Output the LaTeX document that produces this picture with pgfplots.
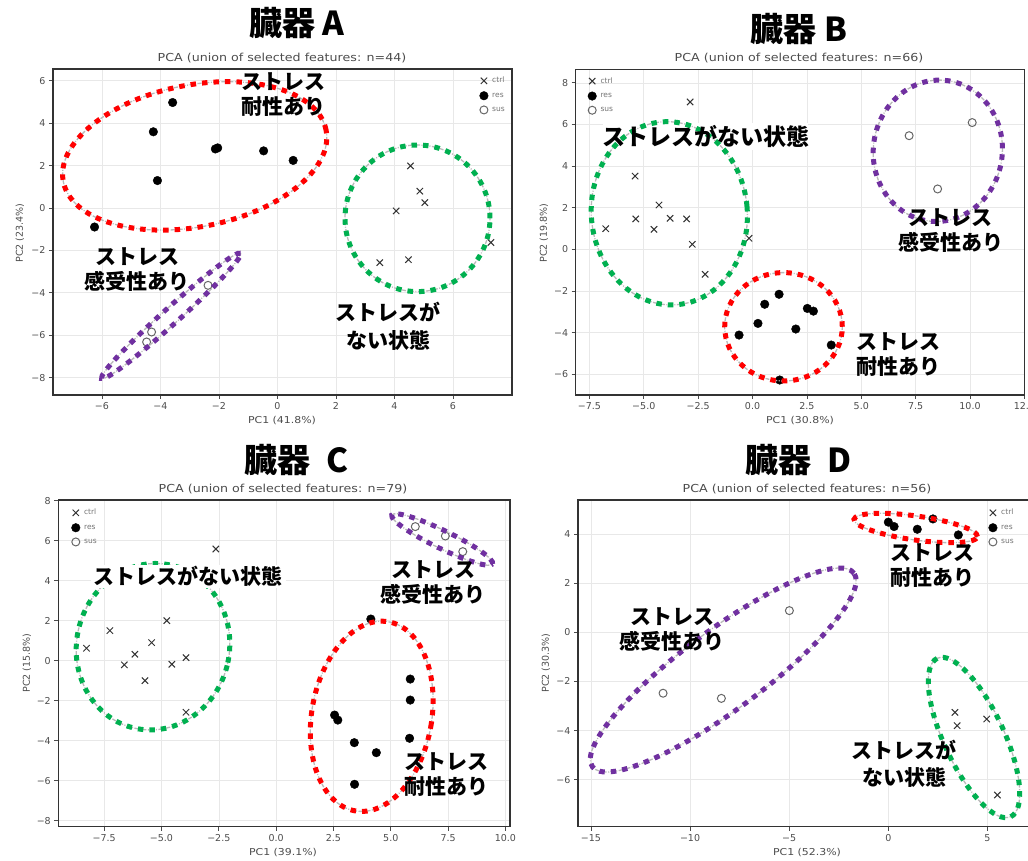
\documentclass[border=0pt]{standalone}
\usepackage{fontspec}
\usepackage{graphicx}
\usepackage{pgfplots}
\pgfplotsset{compat=1.18}
\setmainfont{DejaVu Sans}
\newfontfamily\cjk{Noto Sans CJK JP}
\definecolor{ered}{RGB}{255,0,0}
\definecolor{egreen}{RGB}{0,176,80}
\definecolor{epurple}{RGB}{112,48,160}
\tikzset{
  ellbase/.style={draw=gray!55, line width=1.3pt, dash pattern=on 4pt off 1.5pt on 1pt off 1.5pt},
  elldot/.style={draw=#1, line width=5pt, dash pattern=on 5.5pt off 6pt},
  ann/.style={font=\cjk\bfseries\fontsize{21}{25}\selectfont, align=center, inner sep=1pt},
  ann2/.style={font=\cjk\bfseries\fontsize{21}{28}\selectfont, align=center, inner sep=1pt},
  big/.style={font=\cjk\bfseries\fontsize{33}{36}\selectfont, inner sep=0pt},
  sub/.style={font=\fontsize{11}{13}\selectfont, text=black!70, inner sep=0pt},
  lab/.style={font=\fontsize{9.5}{11}\selectfont, text=black!70, inner sep=0pt},
  ctrl/.style={only marks, mark=x, mark size=4.5pt, mark options={draw=black!80, line width=1pt}},
  res/.style={only marks, mark=*, mark size=4.3pt, mark options={draw=black, fill=black}},
  sus/.style={only marks, mark=o, mark size=4pt, mark options={draw=black!60, line width=1pt}},
}
\newcommand\SX[1]{\scalebox{1.15}[1]{#1}}
\newcommand\Ell[6]{%
  \draw[ellbase, rotate around={#6:({#2pt},{860pt-#3pt})}] ({#2pt},{860pt-#3pt}) ellipse [x radius=#4pt, y radius=#5pt];
  \draw[elldot=#1, rotate around={#6:({#2pt},{860pt-#3pt})}] ({#2pt},{860pt-#3pt}) ellipse [x radius=#4pt, y radius=#5pt];
}
\newcommand\T[3]{\node[#1] at ({#2pt},{860pt-#3pt})}
\pgfplotsset{pca/.style={
  scale only axis, anchor=south west,
  axis line style={draw=black!80, line width=1.3pt},
  grid=major, grid style={draw=gray!18, line width=0.6pt},
  xtick pos=bottom, ytick pos=left, tick align=outside,
  major tick length=4pt, tick style={draw=black!70, line width=0.7pt},
  ticklabel style={font=\fontsize{9.5}{11}\selectfont, text=black!70},
  legend style={draw=none, fill=none, font=\fontsize{7.5}{8}\selectfont, text=black!55, row sep=4.5pt, inner sep=1pt, nodes={inner xsep=4pt}},
  legend cell align=left,
}}
\begin{document}
\begin{tikzpicture}
\useasboundingbox (0,0) rectangle (1028pt,860pt);
\clip (0,0) rectangle (1028pt,860pt);

% ---------------- Panel A ----------------
\begin{axis}[pca, at={(53pt,465pt)}, width=459pt, height=326pt,
  xmin=-7.67, xmax=8.02, ymin=-8.82, ymax=6.55,
  xtick={-6,-4,-2,0,2,4,6}, xticklabels={−6,−4,−2,0,2,4,6},
  ytick={-8,-6,-4,-2,0,2,4,6}, yticklabels={−8,−6,−4,−2,0,2,4,6},
  legend style={at={(1,1)}, anchor=north east, xshift=-2pt, yshift=-5pt}]
\addplot[ctrl] coordinates {(4.55,1.98) (4.87,0.79) (5.04,0.25) (4.06,-0.14) (7.3,-1.63) (3.5,-2.58) (4.48,-2.44)};
\addplot[res] coordinates {(-3.58,4.97) (-4.24,3.59) (-2.04,2.83) (-2.12,2.78) (-0.47,2.69) (0.54,2.24) (-4.1,1.29) (-6.25,-0.9)};
\addplot[sus] coordinates {(-4.47,-6.32) (-4.3,-5.85) (-2.37,-3.65)};
\legend{ctrl,res,sus}
\end{axis}

% ---------------- Panel B ----------------
\begin{axis}[pca, at={(575.7pt,465pt)}, width=448.7pt, height=325.7pt,
  xmin=-8.13, xmax=12.5, ymin=-7.0, ymax=8.65,
  xtick={-7.5,-5,-2.5,0,2.5,5,7.5,10,12.5}, xticklabels={−7.5,−5.0,−2.5,0.0,2.5,5.0,7.5,10.0,12.5},
  ytick={-6,-4,-2,0,2,4,6,8}, yticklabels={−6,−4,−2,0,2,4,6,8},
  legend style={at={(0,1)}, anchor=north west, xshift=11pt, yshift=-5pt}]
\addplot[ctrl] coordinates {(-2.87,7.08) (-5.4,3.52) (-4.3,2.13) (-5.37,1.46) (-3.79,1.49) (-3.03,1.46) (-6.75,0.99) (-4.53,0.96) (-2.77,0.24) (-0.16,0.53) (-2.18,-1.2)};
\addplot[res] coordinates {(1.22,-2.16) (0.56,-2.64) (2.52,-2.84) (2.8,-2.97) (0.25,-3.56) (1.99,-3.83) (-0.62,-4.12) (3.62,-4.6) (1.25,-6.28)};
\addplot[sus] coordinates {(7.2,5.46) (10.1,6.09) (8.51,2.9)};
\legend{ctrl,res,sus}
\end{axis}

% ---------------- Panel C ----------------
\begin{axis}[pca, at={(58.3pt,33.3pt)}, width=451.7pt, height=326.7pt,
  xmin=-9.5, xmax=10.2, ymin=-8.3, ymax=8.03,
  xtick={-7.5,-5,-2.5,0,2.5,5,7.5,10}, xticklabels={−7.5,−5.0,−2.5,0.0,2.5,5.0,7.5,10.0},
  ytick={-8,-6,-4,-2,0,2,4,6,8}, yticklabels={−8,−6,−4,−2,0,2,4,6,8},
  legend style={at={(0,1)}, anchor=north west, xshift=12pt, yshift=-6pt}]
\addplot[ctrl] coordinates {(-2.63,5.58) (-4.77,2.0) (-7.25,1.5) (-5.43,0.9) (-8.27,0.62) (-6.16,0.32) (-3.93,0.15) (-6.62,-0.21) (-4.55,-0.18) (-5.72,-1.0) (-3.93,-2.58)};
\addplot[res] coordinates {(4.13,2.08) (5.85,-0.92) (5.85,-1.97) (2.55,-2.72) (2.69,-2.97) (5.82,-3.88) (3.41,-4.1) (4.37,-4.6) (3.42,-6.18)};
\addplot[sus] coordinates {(6.07,6.7) (7.38,6.23) (8.14,5.45)};
\legend{ctrl,res,sus}
\end{axis}

% ---------------- Panel D ----------------
\begin{axis}[pca, at={(578pt,33.3pt)}, width=465pt, height=326.7pt,
  xmin=-15.65, xmax=7.8, ymin=-7.91, ymax=5.38,
  xtick={-15,-10,-5,0,5}, xticklabels={−15,−10,−5,0,5},
  ytick={-6,-4,-2,0,2,4}, yticklabels={−6,−4,−2,0,2,4},
  legend style={at={(1,1)}, anchor=north east, xshift=-24pt, yshift=-6pt}]
\addplot[ctrl] coordinates {(3.36,-3.26) (3.47,-3.8) (4.96,-3.53) (5.5,-6.62)};
\addplot[res] coordinates {(0.0,4.48) (0.29,4.3) (1.46,4.19) (2.25,4.61) (3.53,3.96)};
\addplot[sus] coordinates {(-4.99,0.88) (-11.36,-2.48) (-8.42,-2.69)};
\legend{ctrl,res,sus}
\end{axis}

% ---------------- titles and labels ----------------
\T{big}{297}{23}{臓器 A};
\T{big}{799}{29}{臓器 B};
\T{big}{297}{460}{臓器\hspace{16pt}C};
\T{big}{799}{460}{臓器\hspace{16pt}D};
\T{sub}{282}{58}{\SX{PCA (union of selected features: n=44)}};
\T{sub}{799}{58}{\SX{PCA (union of selected features: n=66)}};
\T{sub}{283}{489}{\SX{PCA (union of selected features: n=79)}};
\T{sub}{807}{489}{\SX{PCA (union of selected features: n=56)}};
\T{lab}{282}{421}{\SX{PC1 (41.8\%)}};
\T{lab}{800}{421}{\SX{PC1 (30.8\%)}};
\T{lab}{283}{853}{\SX{PC1 (39.1\%)}};
\T{lab}{807}{853}{\SX{PC1 (52.3\%)}};
\T{lab, rotate=90}{20}{233}{PC2 (23.4\%)};
\T{lab, rotate=90}{544}{233}{PC2 (19.8\%)};
\T{lab, rotate=90}{27}{663}{PC2 (15.8\%)};
\T{lab, rotate=90}{546}{663}{PC2 (30.3\%)};

% ---------------- ellipses ----------------
\Ell{ered}{194.7}{155.9}{133.9}{70.9}{11.1}
\Ell{egreen}{417.5}{218.3}{72.5}{73.3}{0}
\Ell{epurple}{171.2}{315.8}{93.5}{8}{42}
% B white box behind text
\fill[white] ({603pt},{860pt-150pt}) rectangle ({808pt},{860pt-123pt});
\Ell{egreen}{669.3}{213.3}{78}{91.7}{5}
\Ell{ered}{783.5}{326.8}{58.8}{54.2}{0}
\Ell{epurple}{937.8}{150.8}{64.5}{70.8}{-8}
\Ell{egreen}{153}{646.7}{76.5}{83.5}{-12}
\Ell{ered}{371.7}{716.3}{60}{96}{-10}
\Ell{epurple}{442.2}{539.5}{56}{9}{-25.9}
\Ell{ered}{915.7}{528}{62.3}{12}{-8}
\Ell{epurple}{723.2}{670}{162.7}{40}{36.5}
\Ell{egreen}{974}{737.5}{87.3}{30}{-65.1}

% ---------------- annotations ----------------
\T{ann}{283}{94.5}{ストレス\\耐性あり};
\T{ann}{137}{269.5}{ストレス\\感受性あり};
\T{ann2}{388}{326.5}{ストレスが\\ない状態};
\T{ann, font=\cjk\bfseries\fontsize{23}{25}\selectfont}{705.7}{136.7}{ストレスがない状態};
\T{ann}{950.7}{230.8}{ストレス\\感受性あり};
\T{ann}{898}{354.2}{ストレス\\耐性あり};
\T{ann, fill=white, inner xsep=3pt}{188.3}{576.7}{ストレスがない状態};
\T{ann}{433.3}{582.5}{ストレス\\感受性あり};
\T{ann}{446.7}{774.2}{ストレス\\耐性あり};
\T{ann}{932.3}{565.8}{ストレス\\耐性あり};
\T{ann}{672.3}{629.2}{ストレス\\感受性あり};
\T{ann, font=\cjk\bfseries\fontsize{21}{27}\selectfont}{904}{763.3}{ストレスが\\ない状態};
\end{tikzpicture}
\end{document}
